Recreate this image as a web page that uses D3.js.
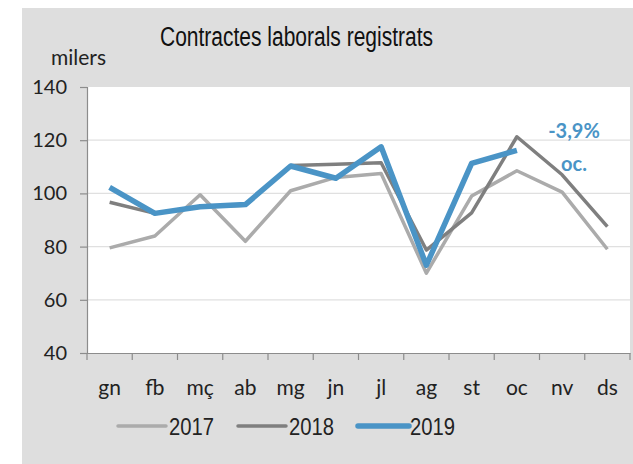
<!DOCTYPE html>
<html>
<head>
<meta charset="utf-8">
<script src="https://cdn.jsdelivr.net/npm/d3@7"></script>
<style>
  body { margin: 0; background: #fff; }
</style>
</head>
<body>
<script>
const months = ["gn","fb","mç","ab","mg","jn","jl","ag","st","oc","nv","ds"];
const v2017 = [79.5, 84, 99.5, 82, 101, 106, 107.5, 70, 99, 108.5, 100.5, 79];
const v2018 = [96.7, 92.5, 95, 95.5, 110.5, 111, 111.5, 78.7, 92.7, 121.3, 107, 87.5];
const v2019 = [102.3, 92.5, 95, 95.8, 110.3, 105.7, 117.5, 73, 111.3, 116.2];
const yTicks = [40, 60, 80, 100, 120, 140];

const series = [
  {name: "2017", values: v2017, color: "#ababab", width: 3.5},
  {name: "2018", values: v2018, color: "#7f7f7f", width: 3.5},
  {name: "2019", values: v2019, color: "#4a94c6", width: 5.5}
];

const W = 633, H = 464;
const svg = d3.select("body").append("svg").attr("width", W).attr("height", H);

svg.append("rect").attr("x", 22).attr("y", 8).attr("width", W - 22).attr("height", H - 8).attr("fill", "#dedede");

const plotL = 87, plotR = 630, plotT = 87, plotB = 353;
const labelFont = "Lato, 'Open Sans', sans-serif";
const narrowFont = "'Liberation Sans Narrow', 'Liberation Sans', Arial, sans-serif";

const x = d3.scaleBand().domain(months).range([plotL, plotR]);
const y = d3.scaleLinear().domain([40, 140]).range([plotB, plotT]);

svg.append("rect").attr("x", plotL).attr("y", plotT).attr("width", plotR - plotL).attr("height", plotB - plotT).attr("fill", "#fff");

// gridlines
svg.selectAll("line.grid")
  .data(yTicks.filter(d => d > 40 && d < 140))
  .join("line")
  .attr("class", "grid")
  .attr("x1", plotL).attr("x2", plotR)
  .attr("y1", d => y(d)).attr("y2", d => y(d))
  .attr("stroke", "#e0e0e0").attr("stroke-width", 1.2);

// y axis
const yAxis = svg.append("g")
  .attr("transform", `translate(${plotL},0)`)
  .call(d3.axisLeft(y).tickValues(yTicks).tickSize(7).tickPadding(13));
yAxis.select(".domain").attr("stroke", "#8c8c8c").attr("stroke-width", 1.2);
yAxis.selectAll(".tick line").attr("stroke", "#8c8c8c").attr("stroke-width", 1.2);
yAxis.selectAll(".tick text")
  .attr("font-family", labelFont).attr("font-size", 20).attr("fill", "#222");

// x axis
const xAxis = svg.append("g")
  .attr("transform", `translate(0,${plotB})`)
  .call(d3.axisBottom(x).tickSize(0).tickPadding(27));
xAxis.select(".domain").attr("stroke", "#8c8c8c").attr("stroke-width", 1.2);
xAxis.selectAll(".tick text")
  .attr("font-family", labelFont).attr("font-size", 21).attr("fill", "#222");

const boundaries = d3.range(months.length + 1).map(i => plotL + i * x.step());
svg.selectAll("line.xtick")
  .data(boundaries)
  .join("line")
  .attr("class", "xtick")
  .attr("x1", d => d).attr("x2", d => d)
  .attr("y1", plotB).attr("y2", plotB + 7)
  .attr("stroke", "#8c8c8c").attr("stroke-width", 1.2);

// lines
const line = d3.line()
  .x((d, i) => x(months[i]) + x.bandwidth() / 2)
  .y(d => y(d));

svg.selectAll("path.series")
  .data(series)
  .join("path")
  .attr("class", "series")
  .attr("d", d => line(d.values))
  .attr("fill", "none")
  .attr("stroke", d => d.color)
  .attr("stroke-width", d => d.width)
  .attr("stroke-linejoin", "round");

// title
svg.append("text")
  .attr("x", 160).attr("y", 46)
  .attr("font-family", narrowFont)
  .attr("font-size", 27).attr("fill", "#111")
  .attr("textLength", 273).attr("lengthAdjust", "spacingAndGlyphs")
  .text("Contractes laborals registrats");

svg.append("text")
  .attr("x", 51).attr("y", 65)
  .attr("font-family", labelFont)
  .attr("font-size", 21).attr("fill", "#222")
  .text("milers");

// annotation
svg.append("text").selectAll("tspan")
  .data(["-3,9%", "oc."])
  .join("tspan")
  .attr("x", 574)
  .attr("y", (d, i) => 138 + i * 33)
  .attr("text-anchor", "middle")
  .attr("font-family", labelFont)
  .attr("font-weight", "bold")
  .attr("font-size", 20)
  .attr("fill", "#4a94c6")
  .text(d => d);

// legend
const legend = svg.selectAll("g.legend")
  .data(series)
  .join("g")
  .attr("class", "legend")
  .attr("transform", (d, i) => `translate(${118 + i * 120},426)`);
legend.append("line")
  .attr("x1", 0).attr("x2", d => d.name === "2019" ? 51 : 48)
  .attr("y1", 0).attr("y2", 0)
  .attr("stroke", d => d.color)
  .attr("stroke-width", d => d.width)
  .attr("stroke-linecap", "round");
legend.append("text")
  .attr("x", d => d.name === "2019" ? 52 : 51).attr("y", 9)
  .attr("font-family", narrowFont)
  .attr("font-size", 23).attr("fill", "#222")
  .attr("textLength", 45).attr("lengthAdjust", "spacingAndGlyphs")
  .text(d => d.name);
</script>
</body>
</html>
